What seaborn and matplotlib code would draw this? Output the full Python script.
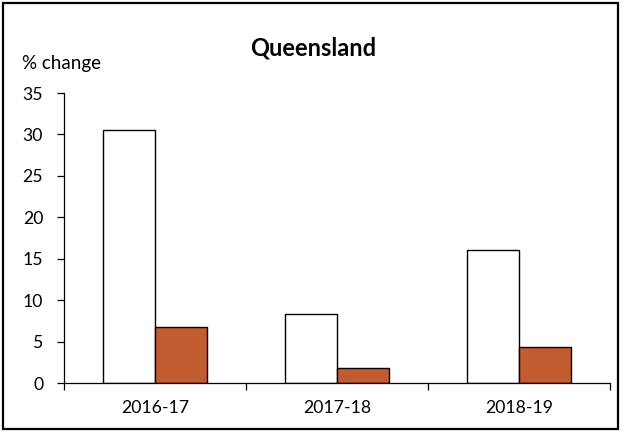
import matplotlib
matplotlib.use("Agg")
import matplotlib.pyplot as plt
import seaborn as sns
import pandas as pd
from matplotlib.patches import Rectangle
from matplotlib.ticker import FixedLocator, MultipleLocator

categories = ["2016-17", "2017-18", "2018-19"]
series_names = ["Series 1", "Series 2"]
series1 = [30.5, 8.3, 16.0]
series2 = [6.8, 1.8, 4.3]
colors = ["#FFFFFF", "#C05C30"]

df = pd.DataFrame({
    "period": categories * 2,
    "series": [series_names[0]] * 3 + [series_names[1]] * 3,
    "value": series1 + series2,
})

sns.set_theme(style="white")
plt.rcParams["font.family"] = ["Lato", "DejaVu Sans"]

fig = plt.figure(figsize=(6.21, 4.32), dpi=100)
ax = fig.add_axes([64/621, 49/432, 546/621, 290/432])

sns.barplot(data=df, x="period", y="value", hue="series", order=categories,
            hue_order=series_names, palette=colors, width=0.571, gap=0,
            edgecolor="black", linewidth=1.0, saturation=1, legend=False, ax=ax)

ax.set_xlim(-0.5, 2.5)
ax.set_ylim(0, 35)
ax.yaxis.set_major_locator(MultipleLocator(5))
ax.set_xlabel("")
ax.set_ylabel("")
for s in ["top", "right"]:
    ax.spines[s].set_visible(False)
for s in ["left", "bottom"]:
    ax.spines[s].set_color("black")
    ax.spines[s].set_linewidth(0.9)

ax.tick_params(axis="y", which="major", direction="out", length=5, width=0.9,
               color="black", labelsize=12.7, labelcolor="black", pad=10, left=True)
ax.tick_params(axis="x", which="major", length=0, labelsize=12.7, labelcolor="black", pad=12)
ax.xaxis.set_minor_locator(FixedLocator([-0.5, 0.5, 1.5, 2.5]))
ax.tick_params(axis="x", which="minor", direction="out", length=5, width=0.9,
               color="black", bottom=True)

fig.text(313/621, 1 - 48/432, "Queensland", ha="center", va="center",
         fontsize=17, fontweight="bold", color="black")
fig.text(22/621, 1 - 63/432, "% change", ha="left", va="center",
         fontsize=13.5, color="black")

fig.patches.append(Rectangle((3/621, 3/432), 615/621, 426/432, transform=fig.transFigure,
                             fill=False, edgecolor="black", linewidth=1.6))

fig.savefig("out.png", dpi=100)
